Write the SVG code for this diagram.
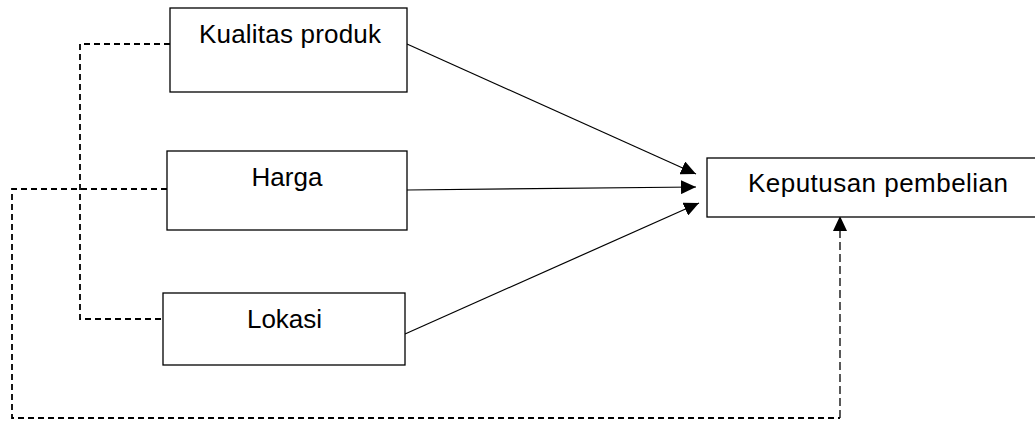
<svg xmlns="http://www.w3.org/2000/svg" width="1035" height="423" viewBox="0 0 1035 423">
<style>
.box{fill:#fff;stroke:#000;stroke-width:1.3}
.lbl{font-family:"Liberation Sans",Arial,sans-serif;font-size:26px;fill:#000;text-anchor:middle}
.solid{fill:none;stroke:#000;stroke-width:1.2}
.dash{fill:none;stroke:#000;stroke-width:1.8;stroke-dasharray:6,4}
.dash2{fill:none;stroke:#000;stroke-width:1.3;stroke-dasharray:8,4}
</style>
<defs>
<marker id="ah" viewBox="0 0 15 14" refX="15" refY="7" markerWidth="15" markerHeight="14" markerUnits="userSpaceOnUse" orient="auto">
<path d="M0,0 L15,7 L0,14 Z" fill="#000"/>
</marker>
</defs>
<g id="connectors">
<line class="solid" x1="407" y1="44" x2="696" y2="174" marker-end="url(#ah)"/>
<line class="solid" x1="407" y1="190" x2="696" y2="187" marker-end="url(#ah)"/>
<line class="solid" x1="405" y1="334" x2="699" y2="203" marker-end="url(#ah)"/>
<polyline class="dash" points="170,44 80,44 80,319 163,319"/>
<polyline class="dash" points="167,189 12,189 12,418 840,418"/>
<line class="dash2" x1="840" y1="418" x2="840" y2="216" marker-end="url(#ah)"/>
</g>
<g id="kualitas">
<rect class="box" x="170" y="8" width="237" height="84"/>
<text class="lbl" x="290" y="43" textLength="182" lengthAdjust="spacing">Kualitas produk</text>
</g>
<g id="harga">
<rect class="box" x="167" y="151" width="240" height="79"/>
<text class="lbl" x="287" y="186">Harga</text>
</g>
<g id="lokasi">
<rect class="box" x="163" y="293" width="242" height="72"/>
<text class="lbl" x="284.5" y="328">Lokasi</text>
</g>
<g id="keputusan">
<rect class="box" x="707" y="158" width="345" height="59"/>
<text class="lbl" x="878" y="192" textLength="260" lengthAdjust="spacing">Keputusan pembelian</text>
</g>
</svg>
